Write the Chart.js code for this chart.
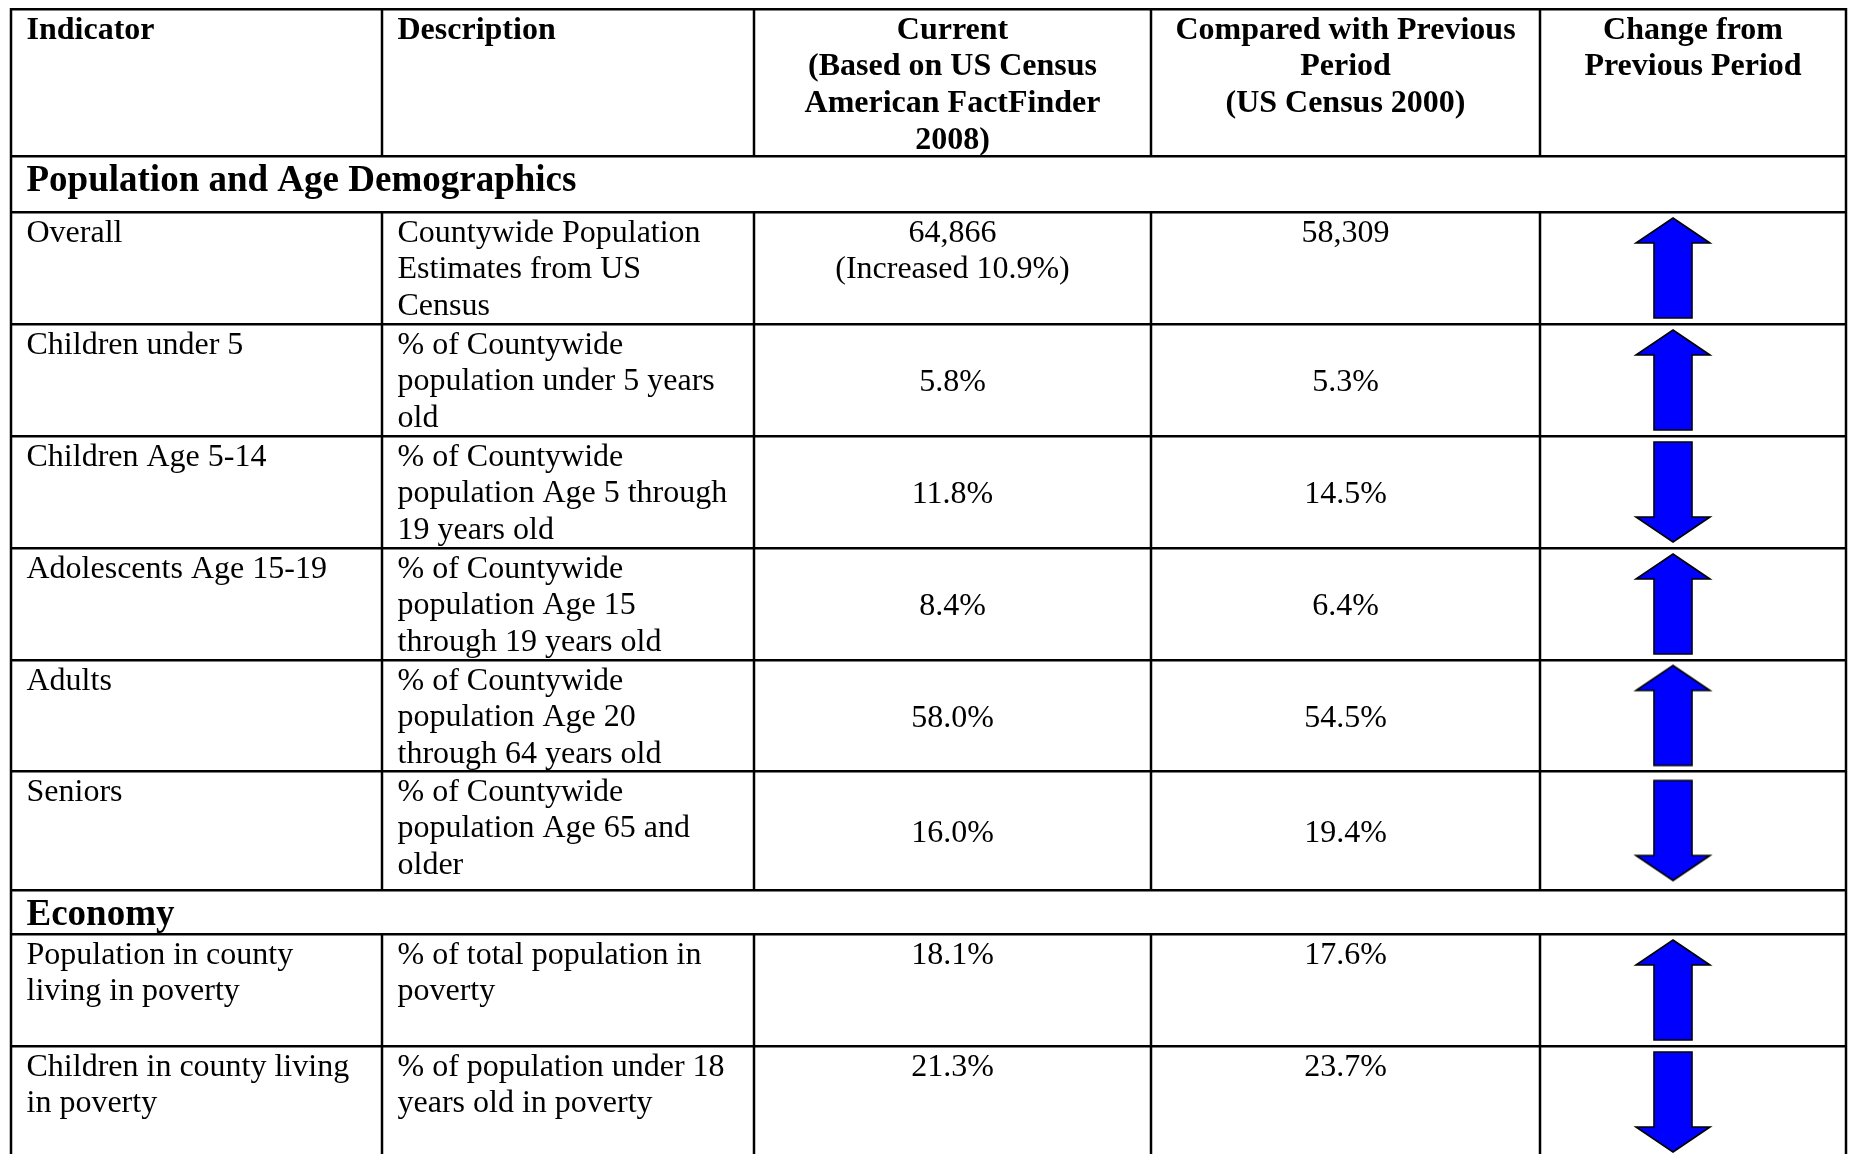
<!DOCTYPE html>
<html>
<head>
<meta charset="utf-8">
<script src="https://cdn.jsdelivr.net/npm/chart.js@4.4.1/dist/chart.umd.min.js"></script>
<style>
html, body { margin: 0; padding: 0; background: #fff; }
canvas { display: block; }
</style>
</head>
<body>
<canvas id="myChart_table" width="1849" height="1154"></canvas>
<script>
// table content
const headers = ['Indicator', 'Description', 'Current\n(Based on US Census American FactFinder 2008)', 'Compared with Previous Period\n(US Census 2000)', 'Change from Previous Period']
const sections = ['Population and Age Demographics', 'Economy']
const indicators = ['Overall', 'Children under 5', 'Children Age 5-14', 'Adolescents Age 15-19', 'Adults', 'Seniors', 'Population in county living in poverty', 'Children in county living in poverty']
const descriptions = [
    'Countywide Population Estimates from US Census',
    '% of Countywide population under 5 years old',
    '% of Countywide population Age 5 through 19 years old',
    '% of Countywide population Age 15 through 19 years old',
    '% of Countywide population Age 20 through 64 years old',
    '% of Countywide population Age 65 and older',
    '% of total population in poverty',
    '% of population under 18 years old in poverty'
]
const currentVals = ['64,866\n(Increased 10.9%)', '5.8%', '11.8%', '8.4%', '58.0%', '16.0%', '18.1%', '21.3%']
const previousVals = ['58,309', '5.3%', '14.5%', '6.4%', '54.5%', '19.4%', '17.6%', '23.7%']
const changeDir = ['up', 'up', 'down', 'up', 'up', 'down', 'up', 'down']

// layout (table units = px)
const colEdges = [0, 371, 743, 1140, 1529, 1835]
const rowEdges = [9, 156, 212, 324, 436, 548, 660, 771, 890, 934, 1046, 1158]
// what sits in each band between rowEdges: 'h' header, 's0'/'s1' section, numbers = data row
const bands = ['h', 's0', 0, 1, 2, 3, 4, 5, 's1', 6, 7]
const valueAlign = ['top', 'mid', 'mid', 'mid', 'mid', 'mid', 'top', 'top']
const pad = 15.5, lineH = 36.8, baseOff = 29.5
const arrowShift = -20

function bandOfRow(i) { return bands.indexOf(i) }
function rowMid(i) { const b = bandOfRow(i); return (rowEdges[b] + rowEdges[b + 1]) / 2 }

function makeArrow(up) {
    const c = document.createElement('canvas')
    c.width = 80; c.height = 104
    const g = c.getContext('2d')
    const cx = 40, hw = 37, sw = 19, hh = 25
    const t = up ? 2 : 102, b = up ? 102 : 2, s = up ? 1 : -1
    g.beginPath()
    g.moveTo(cx, t)
    g.lineTo(cx + hw, t + s * hh)
    g.lineTo(cx + sw, t + s * hh)
    g.lineTo(cx + sw, b)
    g.lineTo(cx - sw, b)
    g.lineTo(cx - sw, t + s * hh)
    g.lineTo(cx - hw, t + s * hh)
    g.closePath()
    g.fillStyle = '#0000ff'
    g.fill()
    g.lineWidth = 1.6
    g.strokeStyle = '#000'
    g.stroke()
    return c
}
const arrows = { up: makeArrow(true), down: makeArrow(false) }

function wrapLines(ctx, text, maxW) {
    const out = []
    text.split('\n').forEach(par => {
        let line = ''
        par.split(' ').forEach(w => {
            const test = line ? line + ' ' + w : w
            if (line && ctx.measureText(test).width > maxW) { out.push(line); line = w }
            else line = test
        })
        out.push(line)
    })
    return out
}

const tablePlugin = {
    id: 'tableCells',
    beforeDatasetsDraw(chart) {
        const { ctx, scales: { x, y } } = chart
        const px = v => x.getPixelForValue(v)
        const py = v => y.getPixelForValue(v)
        const bottom = Math.min(py(rowEdges[rowEdges.length - 1]), chart.height)

        ctx.save()
        ctx.strokeStyle = '#000'
        ctx.lineWidth = 2.5
        // outer left / right borders
        ;[0, colEdges.length - 1].forEach(c => {
            ctx.beginPath()
            ctx.moveTo(px(colEdges[c]), py(rowEdges[0]) - 1)
            ctx.lineTo(px(colEdges[c]), bottom)
            ctx.stroke()
        })
        // inner column lines, not through section bands
        bands.forEach((bd, b) => {
            if (typeof bd === 'string' && bd[0] === 's') return
            for (let c = 1; c < colEdges.length - 1; c++) {
                ctx.beginPath()
                ctx.moveTo(px(colEdges[c]), py(rowEdges[b]))
                ctx.lineTo(px(colEdges[c]), py(rowEdges[b + 1]))
                ctx.stroke()
            }
        })

        ctx.fillStyle = '#000'
        ctx.textBaseline = 'alphabetic'
        function cell(text, c, b, align, valign, font) {
            ctx.font = font
            const l = px(colEdges[c]), r = px(colEdges[c + 1])
            const lines = wrapLines(ctx, text, r - l - 2 * pad)
            const top = py(rowEdges[b]), bot = py(rowEdges[b + 1])
            let y0 = top + baseOff
            if (valign === 'mid') y0 = (top + bot) / 2 - lines.length * lineH / 2 + baseOff
            ctx.textAlign = align
            const xx = align === 'center' ? (l + r) / 2 : l + pad
            lines.forEach((ln, k) => ctx.fillText(ln, xx, y0 + k * lineH))
        }
        const reg = '32px "Liberation Serif", "Times New Roman", serif'
        const bold = 'bold 32px "Liberation Serif", "Times New Roman", serif'
        const secFont = 'bold 37px "Liberation Serif", "Times New Roman", serif'

        headers.forEach((h, c) => cell(h, c, 0, c < 2 ? 'left' : 'center', 'top', bold))
        bands.forEach((bd, b) => {
            if (typeof bd === 'string' && bd[0] === 's') {
                ctx.font = secFont
                ctx.textAlign = 'left'
                ctx.fillText(sections[+bd[1]], px(colEdges[0]) + pad, py(rowEdges[b]) + 34.5)
            }
        })
        indicators.forEach((name, i) => {
            const b = bandOfRow(i)
            cell(name, 0, b, 'left', 'top', reg)
            cell(descriptions[i], 1, b, 'left', 'top', reg)
            cell(currentVals[i], 2, b, 'center', valueAlign[i], reg)
            cell(previousVals[i], 3, b, 'center', valueAlign[i], reg)
        })
        ctx.restore()
    }
}

const arrowX = (colEdges[4] + colEdges[5]) / 2 + arrowShift

new Chart(document.getElementById('myChart_table'), {
    type: 'scatter',
    data: {
        datasets: [{
            data: changeDir.map((d, i) => ({ x: arrowX, y: rowMid(i) })),
            pointStyle: c => arrows[changeDir[c.dataIndex]],
            pointRadius: 10,
            pointHoverRadius: 10,
            showLine: false,
            clip: false
        }]
    },
    options: {
        responsive: false,
        devicePixelRatio: 1,
        animation: false,
        events: [],
        layout: { autoPadding: false, padding: { left: 11, right: 3, top: 0, bottom: 0 } },
        scales: {
            x: { type: 'linear', min: 0, max: 1835, display: false },
            y: {
                type: 'linear',
                reverse: true,
                min: 0,
                max: 1154,
                ticks: { display: false, autoSkip: false },
                border: { display: false },
                grid: { color: '#000', lineWidth: 2.5, drawTicks: false },
                afterBuildTicks: s => { s.ticks = rowEdges.filter(v => v <= 1154).map(v => ({ value: v })) }
            }
        },
        plugins: {
            legend: { display: false },
            tooltip: { enabled: false }
        }
    },
    plugins: [tablePlugin]
})
</script>
</body>
</html>
